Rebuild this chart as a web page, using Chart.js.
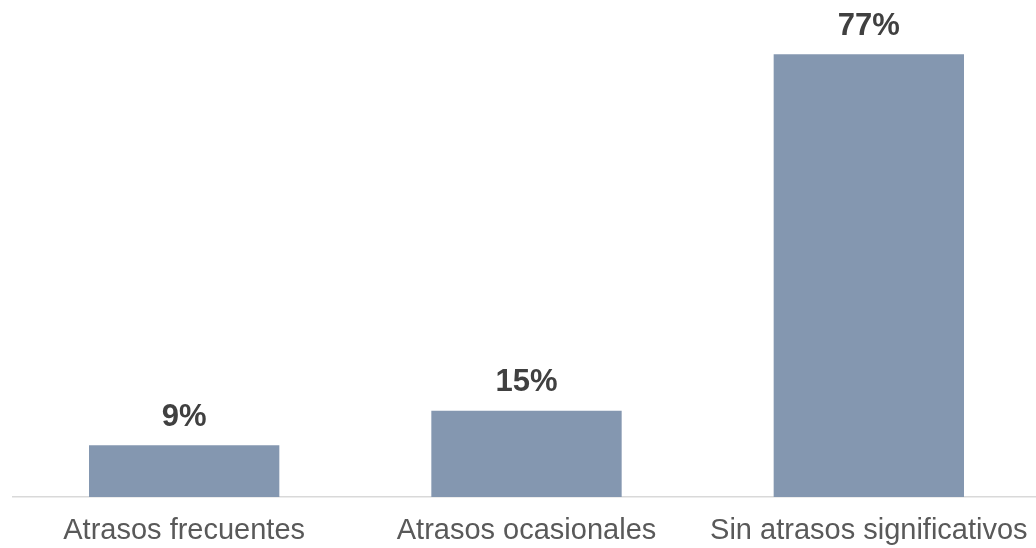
<!DOCTYPE html>
<html>
<head>
<meta charset="utf-8">
<script src="https://cdn.jsdelivr.net/npm/chart.js@4/dist/chart.umd.min.js"></script>
<style>
  html, body { margin:0; padding:0; background:#fff; overflow:hidden; }
  canvas { display:block; }
</style>
</head>
<body>
<canvas id="grafico" width="1040" height="548"></canvas>
<script>
// datos
var categorias = ['Atrasos frecuentes', 'Atrasos ocasionales', 'Sin atrasos significativos'];
var valores = [9, 15, 77];
var etiquetas = ['9%', '15%', '77%'];

// etiquetas encima de las barras
var etiquetasBarras = {
    id: 'etiquetasBarras',
    afterDatasetsDraw: function(chart){
        var ctx = chart.ctx;
        var meta = chart.getDatasetMeta(0);
        ctx.save();
        ctx.font = 'bold 31px "Liberation Sans", Arial, sans-serif';
        ctx.fillStyle = '#404040';
        ctx.textAlign = 'center';
        ctx.textBaseline = 'middle';
        meta.data.forEach(function(bar, i){
            ctx.fillText(etiquetas[i], bar.x, bar.y - 28);
        });
        ctx.restore();
    }
};

function inicio(){
    var ctx = document.getElementById('grafico').getContext('2d');
    new Chart(ctx, {
        type: 'bar',
        data: {
            labels: categorias,
            datasets: [{
                data: valores,
                backgroundColor: '#8497B0',
                borderWidth: 0,
                barPercentage: 1,
                categoryPercentage: 0.556
            }]
        },
        options: {
            responsive: false,
            animation: false,
            layout: { padding: { left: 13, right: 0, top: 37, bottom: 0 } },
            plugins: {
                legend: { display: false },
                tooltip: { enabled: false }
            },
            scales: {
                y: {
                    display: false,
                    min: 0,
                    max: 80
                },
                x: {
                    grid: { display: false, drawTicks: false },
                    border: { color: '#d9d9d9', width: 1.5 },
                    afterFit: function(s){
                        s.height = 51;
                        s.paddingLeft = 0;
                        s.paddingRight = 0;
                    },
                    ticks: {
                        color: '#595959',
                        padding: 17,
                        maxRotation: 0,
                        font: { family: '"Liberation Sans", Arial, sans-serif', size: 29 }
                    }
                }
            }
        },
        plugins: [etiquetasBarras]
    });
}
window.onload = inicio;
</script>
</body>
</html>
